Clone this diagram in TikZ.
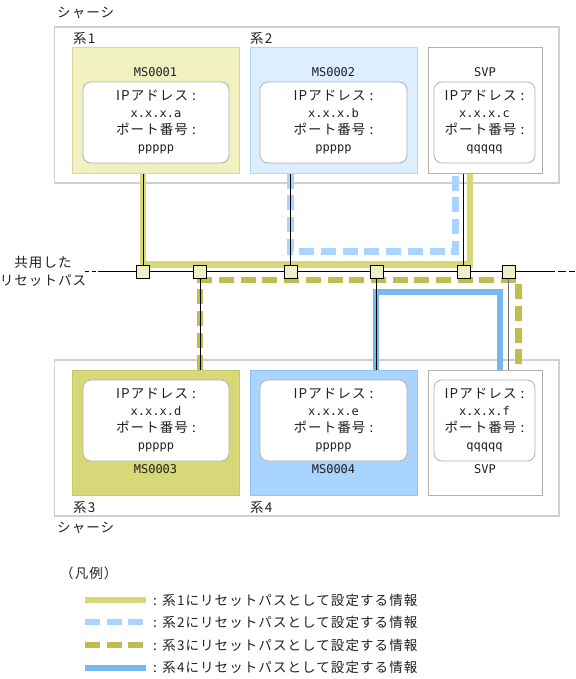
\documentclass[tikz,border=0pt]{standalone}
\usepackage{fontspec}
\setmainfont{Noto Sans CJK JP}[LetterSpace=8]
\newfontfamily\monof{DejaVu Sans Mono}
\usetikzlibrary{calc}
\definecolor{yfill}{HTML}{F0F0C0}
\definecolor{yborder}{HTML}{D8D89C}
\definecolor{bfill}{HTML}{DCEEFF}
\definecolor{bborder}{HTML}{B4D8FC}
\definecolor{ofill}{HTML}{D8D878}
\definecolor{oborder}{HTML}{C8C868}
\definecolor{bbfill}{HTML}{A8D4FF}
\definecolor{bbborder}{HTML}{90C4F4}
\definecolor{cone}{HTML}{D8D878}
\definecolor{ctwo}{HTML}{AAD4FF}
\definecolor{cthree}{HTML}{C0BC50}
\definecolor{cfour}{HTML}{78B8F0}
\definecolor{sqfill}{HTML}{F0F0C8}
\definecolor{chas}{HTML}{D0D0D0}
\definecolor{inb}{HTML}{B0B0B0}
\definecolor{txt}{HTML}{202020}
\definecolor{gline}{HTML}{707070}
\newcommand{\jf}{\fontsize{13.5pt}{17pt}\selectfont}
\newcommand{\mf}{\monof\fontsize{12pt}{17pt}\selectfont}
\tikzset{
  chassis/.style={draw=chas, line width=1.2pt, fill=white},
  sysbox/.style={rectangle, line width=1pt, minimum width=167pt, minimum height=125pt, inner sep=0pt},
  svpbox/.style={rectangle, draw=inb, fill=white, line width=1pt, minimum width=114pt, minimum height=125pt, inner sep=0pt},
  infobox/.style={rectangle, rounded corners=8pt, draw=inb, fill=white, line width=0.8pt, minimum height=81pt, inner sep=0pt, align=center, font=\jf, text=txt},
  lbl/.style={font=\jf, text=txt, inner sep=0pt},
  mlbl/.style={font=\mf, text=txt, inner sep=0pt},
  sysone/.style={draw=cone, line width=6.5pt},
  systwo/.style={draw=ctwo, line width=6.5pt, dash pattern=on 15pt off 6.7pt},
  systhree/.style={draw=cthree, line width=6.5pt, dash pattern=on 15pt off 6.7pt},
  sysfour/.style={draw=cfour, line width=6.5pt},
  conn/.style={draw=black, line width=0.9pt},
  sq/.style={rectangle, draw=black, fill=sqfill, line width=0.9pt, minimum size=13pt, inner sep=0pt},
}
\begin{document}
\begin{tikzpicture}[x=1pt,y=-1pt]
\useasboundingbox (0,0) rectangle (575,679);
% chassis
\node[lbl, anchor=west] (ch1) at (57,13) {シャーシ};
\draw[chassis] (54.5,27) rectangle (559,183);
\draw[chassis] (54.5,360) rectangle (559,516);
\node[lbl, anchor=west] (ch2) at (57,528) {シャーシ};
\node[lbl, anchor=west] (k1) at (73,38) {系1};
\node[lbl, anchor=west] (k2) at (250,38) {系2};
\node[lbl, anchor=west] (k3) at (73,507) {系3};
\node[lbl, anchor=west] (k4) at (250,507) {系4};
% upper boxes
\node[sysbox, draw=yborder, fill=yfill] (ms1) at (155.5,110.5) {};
\node[sysbox, draw=bborder, fill=bfill] (ms2) at (333.5,110.5) {};
\node[svpbox] (svp1) at (485,110.5) {};
\node[mlbl] (ms1l) at (155.5,72) {MS0001};
\node[mlbl] (ms2l) at (333.5,72) {MS0002};
\node[mlbl] (svp1l) at (485,72) {SVP};
\node[infobox, minimum width=146pt] (in1) at (156,122.5) {IPアドレス :\\{\mf x.x.x.a}\\ポート番号 :\\{\mf ppppp}};
\node[infobox, minimum width=147pt] (in2) at (333.5,122.5) {IPアドレス :\\{\mf x.x.x.b}\\ポート番号 :\\{\mf ppppp}};
\node[infobox, minimum width=101pt] (in3) at (484.5,122.5) {IPアドレス :\\{\mf x.x.x.c}\\ポート番号 :\\{\mf qqqqq}};
% lower boxes
\node[sysbox, draw=oborder, fill=ofill] (ms3) at (155.5,432.5) {};
\node[sysbox, draw=bbborder, fill=bbfill] (ms4) at (333.5,432.5) {};
\node[svpbox] (svp2) at (485,432.5) {};
\node[mlbl] (ms3l) at (155.5,469) {MS0003};
\node[mlbl] (ms4l) at (333.5,469) {MS0004};
\node[mlbl] (svp2l) at (485,469) {SVP};
\node[infobox, minimum width=146pt] (in4) at (156,420.5) {IPアドレス :\\{\mf x.x.x.d}\\ポート番号 :\\{\mf ppppp}};
\node[infobox, minimum width=147pt] (in5) at (333.5,420.5) {IPアドレス :\\{\mf x.x.x.e}\\ポート番号 :\\{\mf ppppp}};
\node[infobox, minimum width=101pt] (in6) at (484.5,420.5) {IPアドレス :\\{\mf x.x.x.f}\\ポート番号 :\\{\mf qqqqq}};
% junction coordinates
\coordinate (j1c) at (143,271.5);
\coordinate (j2c) at (200,271.5);
\coordinate (j3c) at (290.5,271.5);
\coordinate (j4c) at (376.5,271.5);
\coordinate (j5c) at (463.5,271.5);
\coordinate (j6c) at (508.5,271.5);
% coloured paths
\coordinate (s1r) at (470,264.5);
\draw[sysone] (ms1.south -| j1c) |- (s1r) -- (s1r |- svp1.south);
\coordinate (s2r) at (455.5,251.5);
\draw[systwo] (ms2.south -| j3c) |- (s2r) -- (s2r |- svp1.south);
\coordinate (s3l) at (200,280);
\coordinate (s3r) at (518.5,280);
\draw[systhree] (ms3.north -| s3l) -- (s3l) -- (s3r) -- (s3r |- svp2.north);
\coordinate (s4l) at (376,292);
\coordinate (s4r) at (500,292);
\draw[sysfour] (ms4.north -| s4l) -- (s4l) -- (s4r) -- (s4r |- svp2.north);
% shared reset path
\coordinate (L0) at (85,271.5);
\coordinate (L1) at (102,271.5);
\coordinate (R1) at (547,271.5);
\coordinate (R0) at (575,271.5);
\draw[conn, dash pattern=on 4pt off 2.5pt] (L0) -- (L1);
\draw[conn] (L1) -- (R1);
\draw[conn, dash pattern=on 8pt off 3pt] (R1) -- (R0);
\node[lbl, align=center, font=\fontsize{13.5pt}{18pt}\selectfont] (shared) at (43,271) {共用した\\リセットパス};
% black connectors
\draw[conn] (ms1.south -| j1c) -- (j1c);
\draw[conn] (j2c) -- (j2c |- ms3.north);
\draw[conn] (ms2.south -| j3c) -- (j3c);
\draw[conn] (j4c) -- (j4c |- ms4.north);
\draw[conn] (svp1.south -| j5c) -- (j5c);
\draw[conn, draw=gline] (j6c) -- (j6c |- svp2.north);
% junction squares
\node[sq] (j1) at (j1c) {};
\node[sq] (j2) at (j2c) {};
\node[sq] (j3) at (j3c) {};
\node[sq] (j4) at (j4c) {};
\node[sq] (j5) at (j5c) {};
\node[sq] (j6) at (j6c) {};
% legend
\node[lbl, anchor=west] (leg) at (60,573) {（凡例）};
\coordinate (a1) at (85,600);   \coordinate (b1) at (146,600);
\coordinate (a2) at (85,622);   \coordinate (b2) at (143,622);
\coordinate (a3) at (85,645);   \coordinate (b3) at (143,645);
\coordinate (a4) at (85,667.5); \coordinate (b4) at (146,667.5);
\draw[sysone, line width=6pt] (a1) -- (b1);
\draw[systwo, line width=6pt] (a2) -- (b2);
\draw[systhree, line width=6pt] (a3) -- (b3);
\draw[sysfour, line width=6pt] (a4) -- (b4);
\node[lbl, anchor=west] (t1) at (153,600) {: 系1にリセットパスとして設定する情報};
\node[lbl, anchor=west] (t2) at (153,622) {: 系2にリセットパスとして設定する情報};
\node[lbl, anchor=west] (t3) at (153,645) {: 系3にリセットパスとして設定する情報};
\node[lbl, anchor=west] (t4) at (153,667.5) {: 系4にリセットパスとして設定する情報};
\end{tikzpicture}
\end{document}
